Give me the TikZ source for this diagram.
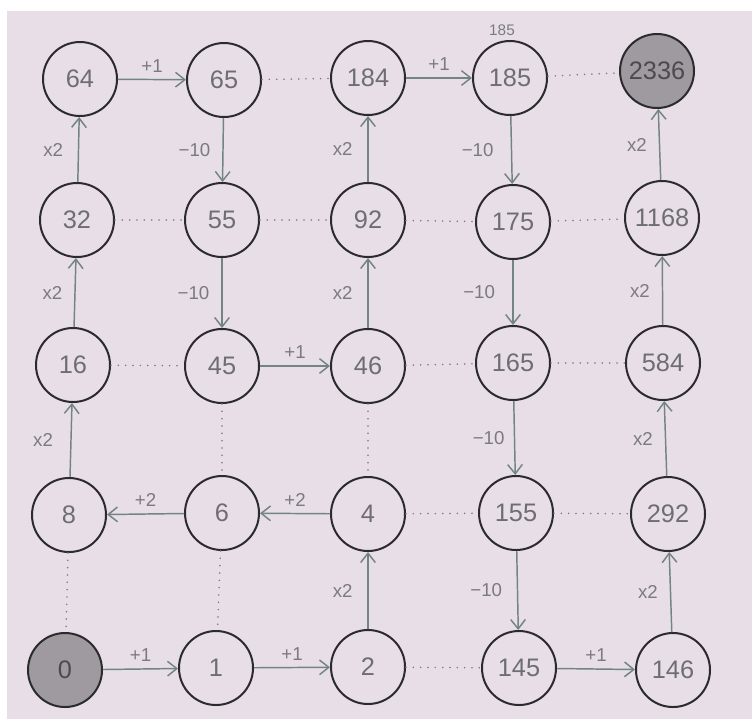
\documentclass[tikz,border=0pt]{standalone}
\usepackage{fontspec}
\setmainfont{Liberation Sans}
\usetikzlibrary{arrows.meta}
\definecolor{paper}{HTML}{E8DEE8}
\definecolor{ring}{HTML}{2B2B2D}
\definecolor{numc}{HTML}{6E6E72}
\definecolor{arrc}{HTML}{738484}
\definecolor{labc}{HTML}{7A7A80}
\definecolor{shade}{HTML}{9E9AA0}
\tikzset{
  st/.style={circle, draw=ring, line width=1.5pt, minimum size=55.5pt, inner sep=0pt,
    text=numc, font=\fontsize{19}{21}\selectfont},
  shaded/.style={st, fill=shade, text=ring!85},
  arr/.style={draw=arrc, line width=1.1pt, -{Straight Barb[length=7pt,width=11pt,line width=1.1pt]}},
  dotl/.style={draw=labc, line width=1.3pt, line cap=round, dash pattern=on 0pt off 5.5pt},
  lab/.style={text=labc, font=\fontsize{14}{16}\selectfont, inner sep=1pt},
  note/.style={text=labc, font=\fontsize{11.5}{13}\selectfont, inner sep=0pt}
}
\begin{document}
\begin{tikzpicture}[x=0.75pt,y=-0.75pt]
\useasboundingbox (0,0) rectangle (752,719);
\fill[white] (0,0) rectangle (752,719);
\fill[paper] (7,11) rectangle (752,719);
% row 1
\node[st] (n64) at (80,79) {64};
\node[st] (n65) at (224,80) {65};
\node[st] (n184) at (368,78) {184};
\node[st] (n185) at (510,78) {185};
\node[shaded] (n2336) at (657,71) {2336};
% row 2
\node[st] (n32) at (77,220) {32};
\node[st] (n55) at (222,220) {55};
\node[st] (n92) at (368,220) {92};
\node[st] (n175) at (513,222) {175};
\node[st] (n1168) at (662,218) {1168};
% row 3
\node[st] (n16) at (73,365) {16};
\node[st] (n45) at (222,366) {45};
\node[st] (n46) at (368,366) {46};
\node[st] (n165) at (513,363) {165};
\node[st] (n584) at (663,363) {584};
% row 4
\node[st] (n8) at (69,515) {8};
\node[st] (n6) at (222,513) {6};
\node[st] (n4) at (368,514) {4};
\node[st] (n155) at (516,513) {155};
\node[st] (n292) at (668,514) {292};
% row 5
\node[shaded] (n0) at (65,670) {0};
\node[st] (n1) at (216,668) {1};
\node[st] (n2) at (368,667) {2};
\node[st] (n145) at (519,668) {145};
\node[st] (n146) at (673,670) {146};
% annotation
\node[note] (ann) at (502,30) {185};
% dotted links
\draw[dotl] (n65) -- (n184);
\draw[dotl] (n185) -- (n2336);
\draw[dotl] (n32) -- (n55);
\draw[dotl] (n55) -- (n92);
\draw[dotl] (n92) -- (n175);
\draw[dotl] (n175) -- (n1168);
\draw[dotl] (n16) -- (n45);
\draw[dotl] (n46) -- (n165);
\draw[dotl] (n165) -- (n584);
\draw[dotl] (n4) -- (n155);
\draw[dotl] (n155) -- (n292);
\draw[dotl] (n2) -- (n145);
\draw[dotl] (n8) -- (n0);
\draw[dotl] (n6) -- (n1);
\draw[dotl] (n45) -- (n6);
\draw[dotl] (n46) -- (n4);
% horizontal arrows
\draw[arr] (n64) -- (n65) node[lab, midway, above=4pt] {+1};
\draw[arr] (n184) -- (n185) node[lab, midway, above=4pt] {+1};
\draw[arr] (n45) -- (n46) node[lab, midway, above=4pt] {+1};
\draw[arr] (n6) -- (n8) node[lab, midway, above=4pt] {+2};
\draw[arr] (n4) -- (n6) node[lab, midway, above=4pt] {+2};
\draw[arr] (n0) -- (n1) node[lab, midway, above=4pt] {+1};
\draw[arr] (n1) -- (n2) node[lab, midway, above=4pt] {+1};
\draw[arr] (n145) -- (n146) node[lab, midway, above=4pt] {+1};
% vertical arrows
\draw[arr] (n8) -- (n16) node[lab, midway, left=12pt] {x2};
\draw[arr] (n16) -- (n32) node[lab, midway, left=8pt] {x2};
\draw[arr] (n32) -- (n64) node[lab, midway, left=10pt] {x2};
\draw[arr] (n65) -- (n55) node[lab, midway, left=8pt] {−10};
\draw[arr] (n55) -- (n45) node[lab, midway, left=8pt] {−10};
\draw[arr] (n2) -- (n4) node[lab, midway, left=10pt] {x2};
\draw[arr] (n46) -- (n92) node[lab, midway, left=10pt] {x2};
\draw[arr] (n92) -- (n184) node[lab, midway, left=10pt] {x2};
\draw[arr] (n185) -- (n175) node[lab, midway, left=12pt] {−10};
\draw[arr] (n175) -- (n165) node[lab, midway, left=12pt] {−10};
\draw[arr] (n165) -- (n155) node[lab, midway, left=6pt] {−10};
\draw[arr] (n155) -- (n145) node[lab, midway, left=10pt] {−10};
\draw[arr] (n146) -- (n292) node[lab, midway, left=8pt] {x2};
\draw[arr] (n292) -- (n584) node[lab, midway, left=8pt] {x2};
\draw[arr] (n584) -- (n1168) node[lab, midway, left=8pt] {x2};
\draw[arr] (n1168) -- (n2336) node[lab, midway, left=8pt] {x2};
\end{tikzpicture}
\end{document}
